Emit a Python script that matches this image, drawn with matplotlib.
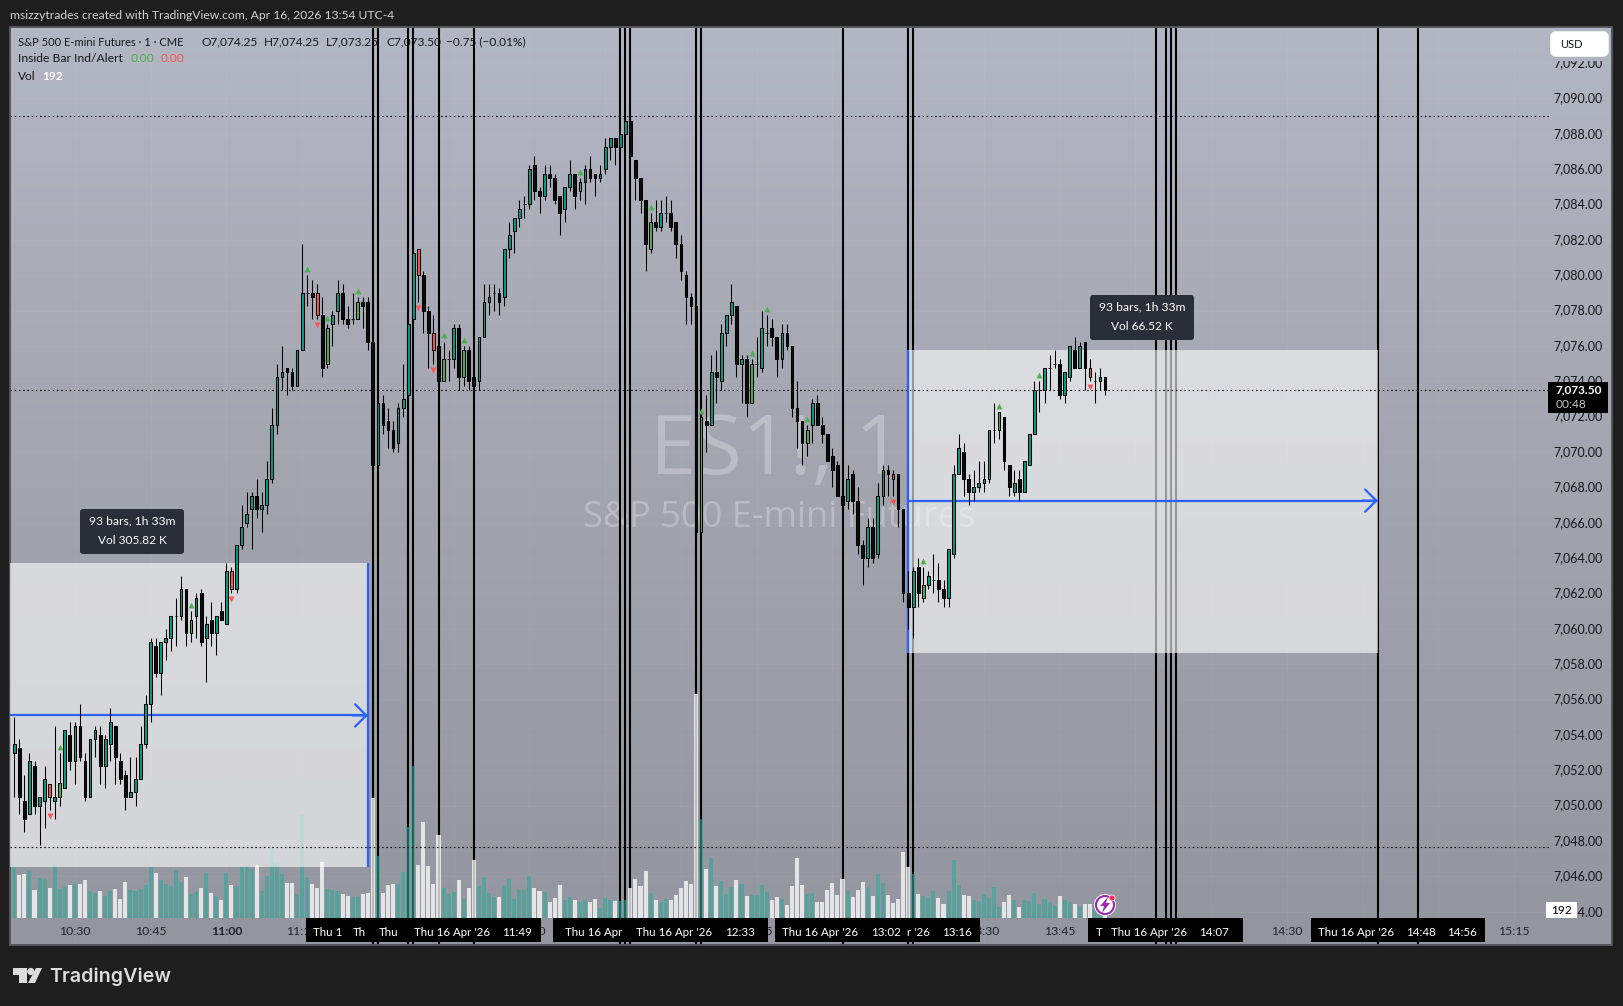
import matplotlib
matplotlib.use("Agg")
import matplotlib.pyplot as plt
import matplotlib.transforms as mtransforms
from matplotlib.colors import LinearSegmentedColormap
from matplotlib.patches import Circle, FancyBboxPatch, Polygon, Rectangle
import numpy as np

plt.rcParams["font.family"] = ["Lato", "DejaVu Sans"]

W, H = 1623, 1006

# one minute candles, ES1! 16 Apr 2026, 10:18 to 13:54, prices minus 7000
opens = 7000 + np.array([
    53,53.25,50.25,49.5,52.25,50,50.25,51.25,50.25,50.5,
    51,54,52.5,54.5,52.5,50.5,53.75,54,52.25,53.5,
    54.5,52.5,51.75,50.5,50.75,51.5,53.5,55.75,59,57.5,
    59.25,59.5,60.75,60.75,62.25,59.75,60.75,62,59.5,60.5,
    59.75,61,60.25,63.25,62.25,64.75,66,66.75,67.5,66.75,
    67,68.5,71.5,74.25,74.75,74.5,73.75,75.75,79,79,
    79,77.75,75,77.25,78,79,77.5,77.5,77.5,78.5,
    78.5,76.25,69.25,72.75,71.75,71.25,70.5,72.5,73.25,77.5,
    81.5,80,78,76.75,76,74,75.25,75.25,77,74.25,
    75.75,74.25,74,76.5,78.5,79,79,78.75,81.5,82.5,
    83.25,84,84,86.25,84.75,84.5,85.75,85.5,84.5,83.75,
    85,85.75,84.75,85.25,86,85.75,85.5,86,87.25,87.75,
    87.25,88,88.75,86.5,85.5,84.25,81.5,83,82.75,83.5,
    83.5,83,81.75,80,78.75,78.25,65.5,71.75,71.5,74.5,
    74,76.75,77.75,78.25,75,75.25,72.75,75,74.75,76.75,
    77,76.5,75.25,76.75,76,72.5,71.75,70.5,71.5,72.75,
    71.5,71,69.75,69.25,67.5,67.25,68.75,67.25,64.75,64,
    65.75,64.25,67.5,69,68.75,68.75,66.75,62,61.25,63.5,
    61.75,62.5,62.75,62.75,62.25,61.75,64.25,68.75,70,68.5,
    67.75,68,68.25,68.5,71.25,71.25,72,69.25,67.75,68.5,
    67.75,69.25,71,73.5,73.5,74.75,75,75,73.25,74.25,
    75.75,74.75,76.25,74.75,74,74,74.25])
highs = 7000 + np.array([
    55,53.75,51.75,53,52.5,50.5,52.25,51.25,54.5,53,
    54.25,54.75,54.75,55.75,53,53.75,54.5,54.5,54,55.5,
    54.5,53,52,52.75,52.75,54.5,56.25,59.5,59.5,59.25,
    60,60.75,61.75,63,62.25,61,62,62.25,60.75,61.5,
    60.75,61.5,63.75,63.5,64.75,67,67.75,67.75,68.5,67.75,
    69.5,72.5,75,76,74.75,74.75,75.75,81.75,80,79.75,
    79.5,78.75,77.25,78,79.75,79.5,78.25,79,78.75,78.75,
    78.75,76.25,72.75,73.25,72.5,71.75,72.75,75,77.25,81.25,
    81.5,80.25,78.25,77.75,76,76.25,75.75,77.25,77.25,76,
    76,74.25,76.5,79.5,79.5,79.5,79.25,81.5,83,83.25,
    84.25,84.5,86.25,86.75,85,86.25,86.25,85.75,84.5,85,
    86.5,85.75,85.5,86.25,86.75,85.75,86.25,87.75,87.75,87.75,
    88,89,89,86.5,85.5,84.25,83.5,84.25,84.25,84.5,
    84.25,83,82.25,80.25,79,78.25,72,73.25,75.5,75.75,
    77.25,77.75,79.5,78.25,75.5,75.5,75.25,76.5,78,77.75,
    77.5,76.5,77.25,77.25,76,74,71.75,71.5,73,73.25,
    72,71,70.25,69.5,67.5,69.25,69,68,65,66.25,
    66.25,68.25,69.25,69.25,69,68.75,66.75,63.25,63.5,64,
    63.5,63.25,64.25,63.75,62.75,64.5,69.25,71,70.5,68.75,
    69,69.5,69.5,71.25,72.75,72.25,72,69.25,69,69,
    69.5,71,74,74,74.75,75.5,75.75,75.25,74.5,76,
    76.5,76.25,76.25,75.25,74.5,74.75,74.25])
lows = 7000 + np.array([
    50.5,49.5,48.5,49.5,49.5,47.75,48.75,49.75,49.25,50,
    51,52,51.25,52.5,50.25,50.5,52.75,51.25,51,52.5,
    51.25,51.25,49.75,50.5,50,51.5,53.25,54.75,57.25,56.25,
    58.25,58.75,59,60.5,59,59.25,59.5,59,57,59,
    58.5,60.5,60.25,62,62,64.5,65.75,64.5,66.25,65.5,
    66.5,68.25,71,73.5,73.25,73.5,73.75,75.75,78.25,77.5,
    77.5,74.25,74.75,76,77.25,77.25,77,77.25,77.5,77,
    75.75,69,69.25,71,70.25,70,70,72,73,77.25,
    78.5,76.75,74.75,75,74,74,74,74.75,73.5,73.75,
    73.5,73.75,73.5,76.5,77.75,78,77.75,78.25,81,81.25,
    82.75,83.25,83.75,84.25,83.5,84.25,85,84,82.25,83,
    84.75,83.75,84.25,84,85.25,84.5,85.25,85.75,86.5,86.25,
    87.25,88,86.75,84.25,83.5,80.25,81.25,82.5,82.5,83,
    82.5,81,79.75,77.25,77.25,64.5,65.5,70,71.5,72.75,
    73.5,76,77.25,74.25,72.75,72,72.75,74.25,74.5,76,
    76,74.25,74.75,75.75,72,70.25,69.25,69.75,70.5,71.5,
    70.5,69.5,68,67.5,67,66.75,66.5,64.25,62.5,63.5,
    63.75,64,67,67.5,67.5,65.75,61.5,60,59.5,61.25,
    61.5,62.25,62,61.5,61.25,61.25,64,68.75,67.5,67,
    67.25,67.75,67.75,68.25,70.5,70.75,69,67.5,67.5,67.25,
    67.75,69.25,71,72.25,72.75,73.5,74.75,73,72.75,74,
    74.75,74.75,73.5,74,72.75,73.5,73.25])
closes = 7000 + np.array([
    53.5,50.5,49.25,52.5,50,50.5,51.5,50.5,50.5,51.25,
    54.25,52.5,54.5,52.75,50.5,53.75,54.25,52.25,53.75,54.75,
    52.75,51.5,50.5,50.75,51.5,53.5,55.75,59.25,57.5,59.25,
    59.5,60.75,60.75,62.25,59.75,60.5,61.75,59.25,60.25,59.75,
    60.75,60.5,63.25,62.25,64.75,65.75,66.5,67.5,66.75,67,
    68.5,71.5,74.25,74.5,74.5,73.75,75.75,79,79,78.75,
    77.75,74.75,77,77.75,79,77.5,77.25,77.5,78.5,78.25,
    76.25,69.25,72.75,71.5,71.25,70.25,72.5,73,77.25,81.25,
    80,78,76.75,75.75,74,75.25,75.25,77,74.25,75.75,
    74,73.75,76.5,78.5,78.75,79,78.5,81.5,82.25,83.25,
    83.75,84,86,84.75,84.5,85.75,85.5,84.25,83.5,85,
    85.75,84.5,85.25,86,85.5,85.5,85.75,87.25,87.75,87.25,
    88,88.75,86.75,85.5,84.25,81.75,83,82.75,83.5,83.5,
    82.75,81.75,80.25,78.75,78.25,65.5,72,71.5,74.5,74.25,
    76.75,77.75,78.5,75,75.25,72.75,75,75,77,76.75,
    76.5,75.25,76.75,76,72.5,71.75,70.5,71.25,72.75,71.5,
    71,69.5,69,67.5,67,68.5,67.25,64.75,64,65.75,
    64,67.5,69,68.75,68.5,66.75,62,61.25,63.25,62,
    62.5,63,62.75,62.25,61.75,64.5,68.75,70.25,68.5,67.75,
    68,68.25,68.5,71.25,71.25,72.25,69.5,68,68.25,67.75,
    69.5,71,73.5,73.5,74.75,74.75,75,73.25,74.5,76,
    74.75,76,74.75,74.25,74,74.25,73.5])
volumes = np.array([
    6360,5160,5280,5640,3360,4840,4680,3640,6480,3480,
    3680,3960,4080,4080,4560,3240,3040,3240,2640,3240,
    3480,2280,4320,3360,3240,3480,3960,6120,5400,4560,
    4080,3840,5760,4320,4920,2880,3120,3600,5400,3000,
    2640,2160,5400,3960,3840,6120,6240,5880,6360,3240,
    5040,8520,6600,5280,4200,4200,2880,12360,4920,4080,
    3600,6720,3480,3360,3240,2880,2640,2520,2560,2880,
    3000,14400,7440,3000,3960,4080,4080,5520,10920,18240,
    6360,11520,6240,4080,9960,3600,2880,3120,4560,2280,
    3600,6960,3840,4920,3000,2520,2520,3960,4680,2280,
    3360,3360,5040,3600,3240,3120,1920,2400,3960,2160,
    2520,2160,1920,2160,1920,2280,1200,2400,2160,2040,
    2040,2160,3600,4680,3840,5640,3000,2160,1920,2280,
    2160,2760,3600,4440,4080,26880,11880,5880,7200,3840,
    4440,2880,3720,4560,4080,2640,2760,2760,3960,3120,
    2160,2520,2280,1560,3840,7200,3960,2880,3000,1920,
    1920,3360,4200,2760,4680,3240,2520,3360,4320,3600,
    2640,5280,4200,2760,1800,2280,7920,6120,5280,2880,
    2640,2400,3240,2400,1680,3240,6960,3960,2760,2640,
    2160,2040,2880,2400,3720,1320,1920,2760,2160,1320,
    2160,2040,3000,1680,2280,1920,1440,2640,2160,1920,
    1680,1320,1680,1680,1440,900,192])

# bars flagged by the Inside Bar indicator, numbered from 1
inside_up_bars = [10, 36, 63, 69, 86, 90, 113, 127, 137, 147, 158, 181, 196]
inside_down_bars = [8, 44, 61, 81, 84, 175, 214]
doji_flag_bars = [59, 150, 204]

# vertical lines, oldest first
line_times = ["11:29", "11:30", "11:36", "11:37", "11:42", "11:49", "12:18", "12:19",
              "12:20", "12:33", "12:34", "13:02", "13:15", "13:16", "14:04", "14:06",
              "14:07", "14:08", "14:48", "14:56"]
# the black time labels of those lines, they cover one another
box_times = line_times
# what can be read of them: time, date text, is the date cut on its left, show the time
label_texts = [
    ("11:29", "Thu 1", False, False),
    ("11:37", "Th", False, False),
    ("11:42", "Thu", False, False),
    ("11:49", "Thu 16 Apr '26", False, True),
    ("12:19", "Thu 16 Apr", False, False),
    ("12:33", "Thu 16 Apr '26", False, True),
    ("13:02", "Thu 16 Apr '26", False, True),
    ("13:16", "r '26", True, True),
    ("14:04", "T", False, False),
    ("14:07", "Thu 16 Apr '26", False, True),
    ("14:48", "Thu 16 Apr '26", False, True),
    ("14:56", "", False, True),
]
time_ticks = ["10:30", "10:45", "11:00", "11:15", "12:00", "12:45", "13:30", "13:45", "14:30", "15:15"]
price_ticks = np.arange(7044, 7094, 2)

# drawn ranges: start, end, top, middle, bottom
range_left = ("09:55", "11:28", 7063.7, 7055.1, 7046.5)
range_right = ("13:15", "14:48", 7075.75, 7067.25, 7058.65)

high_line = 7089.0
low_line = 7047.65
last_price = 7073.5


def minutes(hhmm):
    h, m = hhmm.split(":")
    return int(h) * 60 + int(m)


times = minutes("10:18") + np.arange(len(closes))

fig = plt.figure(figsize=(W / 100, H / 100), dpi=100, facecolor="#1e1e1e")
# pixel coordinates for the screenshot furniture
px = mtransforms.Affine2D().scale(1 / W, -1 / H).translate(0, 1) + fig.transFigure

L, R, T, B, VB = 10, 1612, 27, 945, 918
xlim = (618 + (L - 14.3) / 5.05, 618 + (R - 14.3) / 5.05)
ylim = (7090 - (B - 98.4) / 17.68, 7090 + (98.4 - T) / 17.68)
pos = [L / W, 1 - B / H, (R - L) / W, (B - T) / H]

ax_bg = fig.add_axes(pos)
ax_v = fig.add_axes([L / W, 1 - VB / H, (R - L) / W, (VB - T) / H])
ax = fig.add_axes(pos)
for a in (ax_bg, ax_v, ax):
    a.set_xlim(*xlim)
    a.set_xticks([])
    a.set_yticks([])
ax_bg.set_ylim(*ylim)
ax.set_ylim(*ylim)
ax_v.set_ylim(0, (VB - T) * 120)
ax_v.patch.set_alpha(0)
ax.patch.set_alpha(0)
for a in (ax_v, ax):
    for s in a.spines.values():
        s.set_visible(False)
for s in ax_bg.spines.values():
    s.set_color("#55565a")
    s.set_linewidth(1.4)

# background gradient and faint grid
cmap = LinearSegmentedColormap.from_list("bg", ["#b3b6c3", "#a2a4ae", "#94969f"])
ax_bg.imshow(np.linspace(0, 1, 256).reshape(-1, 1), cmap=cmap, aspect="auto",
             extent=(*xlim, *ylim), origin="upper", zorder=0)
for p in price_ticks:
    ax_bg.axhline(p, color="white", alpha=0.04, lw=0.8, zorder=0.5)
for m in range(minutes("10:30"), minutes("15:30"), 15):
    ax_bg.axvline(m, color="white", alpha=0.04, lw=0.8, zorder=0.5)

# watermark
ax_bg.text(776, 453, "ES1!, 1", transform=px, ha="center", va="center", fontsize=60,
           family="Open Sans", color="white", alpha=0.27, zorder=1)
ax_bg.text(779, 518, "S&P 500 E-mini Futures", transform=px, ha="center", va="center",
           fontsize=26, family="Open Sans", color="white", alpha=0.27, zorder=1)

# legend, sits under the vertical lines
leg_col = "#15171c"
fs = 8.6
for x, y, s, c, w, size in [
    (18, 42, "S&P 500 E-mini Futures · 1 · CME", leg_col, "normal", 8.0),
    (202, 42, "O7,074.25", leg_col, "normal", fs),
    (264, 42, "H7,074.25", leg_col, "normal", fs),
    (326, 42, "L7,073.25", leg_col, "normal", fs),
    (386, 42, "C7,073.50", leg_col, "normal", fs),
    (446, 42, "−0.75 (−0.01%)", leg_col, "normal", fs),
    (18, 59, "Inside Bar Ind/Alert", leg_col, "normal", fs + 0.1),
    (131, 59, "0.00", "#4caf50", "normal", fs),
    (161, 59, "0.00", "#ff5252", "normal", fs),
    (18, 76, "Vol", leg_col, "normal", fs),
    (42, 76, "192", "white", "bold", fs),
]:
    ax_bg.text(x, y, s, transform=px, ha="left", va="center", fontsize=size, color=c,
               fontweight=w, zorder=1.5)

ax_bg.vlines([minutes(t) for t in line_times], *ylim, color="black", lw=1.5, zorder=2)

# volume pane
vol_up = closes >= opens
ax_v.bar(times[vol_up], volumes[vol_up], width=0.8, color="#34a798", alpha=0.6, lw=0)
ax_v.bar(times[~vol_up], volumes[~vol_up], width=0.8, color="white", alpha=0.75, lw=0)

# ranges
for start, end, top, mid, bot in (range_left, range_right):
    t0, t1 = minutes(start), minutes(end)
    ax.add_patch(Rectangle((t0, bot), t1 - t0, top - bot, fc="white", alpha=0.6, lw=0, zorder=1))
    ax.plot([t0, t1], [mid, mid], color="#2962ff", lw=1.6, zorder=1.5, solid_capstyle="butt")
    ax.annotate("", xy=(t1, mid), xytext=(t1 - 3, mid), zorder=1.5,
                arrowprops=dict(arrowstyle="->,head_length=0.8,head_width=0.8", color="#2962ff",
                                lw=1.6, shrinkA=0, shrinkB=0, mutation_scale=10))
ax.vlines(minutes(range_left[1]), range_left[4], range_left[2], color="#2962ff", lw=1.6, zorder=1.5)
ax.vlines(minutes(range_right[0]), range_right[4], range_right[2], color="#2962ff", lw=1.6, zorder=1.5)

# dotted high, low and last price
for level in (high_line, low_line, last_price):
    ax.plot([xlim[0], 618 + (1549 - 14.3) / 5.05], [level, level], color="black", lw=0.8,
            ls=(0, (1.4, 2.4)), zorder=1.7)

# candles
body_cols = np.where(closes >= opens, "#089981", "#0c0c0c").astype(object)
body_cols[np.array(inside_up_bars) - 1] = "#4caf50"
body_cols[np.array(inside_down_bars) - 1] = "#ff5252"
ax.vlines(times, lows, highs, color="black", lw=0.75, zorder=3)
ax.bar(times, closes - opens, bottom=opens, width=0.55, color=list(body_cols),
       edgecolor="black", lw=0.75, zorder=4)

up_idx = np.array(sorted(inside_up_bars + doji_flag_bars)) - 1
dn_idx = np.array(inside_down_bars) - 1
ax.scatter(times[up_idx], highs[up_idx] + 0.34, marker="^", s=18, color="#4caf50", lw=0, zorder=5)
ax.scatter(times[dn_idx], lows[dn_idx] - 0.34, marker="v", s=18, color="#ff5252", lw=0, zorder=5)

# price axis labels
for p in price_ticks:
    ax.text(0.9944, p, f"{p:,.2f}", transform=ax.get_yaxis_transform(), ha="right", va="center",
            fontsize=9, color="#15171c", zorder=6)

# time axis labels
tr = ax.get_xaxis_transform()
for t in time_ticks:
    ax.text(minutes(t), 13.5 / (B - T), t, transform=tr, ha="center", va="center", fontsize=8.8,
            color="#22242a", fontweight="bold" if t == "11:00" else "normal", zorder=6)

# crosshair time labels
for t in box_times:
    ax.add_patch(Rectangle((minutes(t) - 13.3, 3 / (B - T)), 26.6, 24 / (B - T), transform=tr,
                           fc="black", lw=0, zorder=7))
for t, date, cut_left, show_time in label_texts:
    m = minutes(t)
    if cut_left:
        ax.text(m + 3.3, 13 / (B - T), date, transform=tr, ha="right", va="center", fontsize=8.3,
                color="white", zorder=8)
    elif date:
        ax.text(m - 11.9, 13 / (B - T), date, transform=tr, ha="left", va="center", fontsize=8.3,
                color="white", zorder=8)
    if show_time:
        ax.text(m + 8.6, 13 / (B - T), t, transform=tr, ha="center", va="center", fontsize=8.3,
                color="white", zorder=8)

# price scale tags
ax.add_patch(Rectangle((1550, 55), 59, 6, transform=px, fc="#b0b3c0", lw=0, zorder=29))
ax.add_patch(FancyBboxPatch((1553, 34), 53, 20, boxstyle="round,pad=0,rounding_size=3", transform=px,
                            fc="white", ec="white", lw=4, zorder=30))
ax.text(1560, 44, "USD", transform=px, va="center", fontsize=8, color="#15171c", zorder=31)
ax.add_patch(Rectangle((1548, 382), 60, 31, transform=px, fc="black", lw=0, zorder=30))
ax.text(1556, 390, "7,073.50", transform=px, va="center", fontsize=8.6, color="white", fontweight="bold", zorder=31)
ax.text(1556, 404, "00:48", transform=px, va="center", fontsize=8.6, color="#c8c8c8", zorder=31)
ax.add_patch(Rectangle((1546, 902), 31, 16, transform=px, fc="white", lw=0, zorder=30))
ax.text(1561, 910.5, "192", transform=px, ha="center", va="center", fontsize=8.6, color="black", zorder=31)

# measure tooltips
for x0, x1, y0, y1, cx, y_a, y_b, vol in [
    (80, 184, 509, 554, 132, 520.7, 540.7, "Vol 305.82 K"),
    (1090, 1194, 295, 340, 1142, 307.3, 326.7, "Vol 66.52 K"),
]:
    ax.add_patch(FancyBboxPatch((x0 + 3, y0 + 3), x1 - x0 - 6, y1 - y0 - 6, boxstyle="round,pad=3,rounding_size=3",
                                transform=px, fc="#2a2e39", lw=0, zorder=30))
    ax.text(cx, y_a, "93 bars, 1h 33m", transform=px, ha="center", va="center", fontsize=8.7, color="white", zorder=31)
    ax.text(cx, y_b, vol, transform=px, ha="center", va="center", fontsize=8.6, color="white", zorder=31)

# replay icon at the last bar
ax.add_patch(Circle((1105, 905), 11, transform=px, fc="white", lw=0, zorder=32))
ax.add_patch(Circle((1105, 905), 9, transform=px, fc="white", ec="#9c27b0", lw=1.5, zorder=33))
ax.add_patch(Polygon([(1108, 897), (1100, 906), (1104, 906), (1102, 913), (1110, 903), (1106, 903)], transform=px,
                     fc="#9c27b0", lw=0, zorder=34))
ax.add_patch(Circle((1112, 898), 3, transform=px, fc="#ff2d55", ec="white", lw=0.5, zorder=35))

# header and TradingView mark on the dark frame
fig.text(10 / W, 1 - 15.5 / H, "msizzytrades created with TradingView.com, Apr 16, 2026 13:54 UTC-4",
         va="center", fontsize=8.7, color="#d2d2d2")
fig.text(49 / W, 1 - 977 / H, "TradingView", va="center", fontsize=14.2, color="#dcdcdc", fontweight="semibold",
         family="Inter")
logo = "#dcdcdc"
fig.add_artist(Polygon([(12.5, 968), (27, 968), (27, 983), (19, 983), (19, 975), (12.5, 975)], transform=px,
                       fc=logo, lw=0))
fig.add_artist(Circle((30.8, 971.5), 3.6, transform=px, fc=logo, lw=0))
fig.add_artist(Polygon([(36, 968), (42, 968), (35, 983), (28, 983)], transform=px, fc=logo, lw=0))

fig.savefig("out.png", dpi=100, facecolor=fig.get_facecolor())
